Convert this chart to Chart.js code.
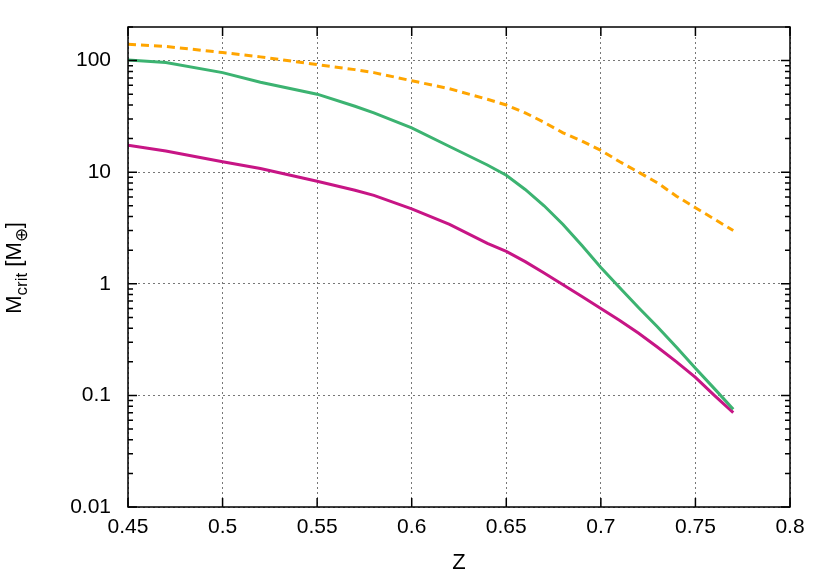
<!DOCTYPE html>
<html lang="en">
<head>
<meta charset="UTF-8">
<title>Critical mass vs Z</title>
<script src="https://cdn.jsdelivr.net/npm/chart.js@4"></script>
<style>
  html, body { margin: 0; padding: 0; background: #fff; }
  #wrap { width: 830px; height: 580px; position: relative; }
</style>
</head>
<body>
<div id="wrap"><canvas id="chart"></canvas></div>
<script>
// data
const zValues      = [0.45, 0.47, 0.50, 0.52, 0.55, 0.57, 0.58, 0.60, 0.62, 0.64, 0.65, 0.66, 0.67, 0.68, 0.69, 0.70, 0.71, 0.72, 0.73, 0.74, 0.75, 0.76, 0.77];
const orangeMass   = [140, 134, 118, 108, 92, 83, 78, 66, 56, 45, 40, 34, 28, 22.5, 19, 15.7, 12.4, 10, 8, 6.1, 4.8, 3.8, 3.0];
const greenMass    = [101, 96, 78, 64, 50, 39, 34, 25, 17, 11.6, 9.4, 7.0, 5.0, 3.4, 2.2, 1.4, 0.92, 0.61, 0.41, 0.27, 0.175, 0.115, 0.075];
const magentaMass  = [17.4, 15.5, 12.4, 10.8, 8.3, 6.9, 6.2, 4.7, 3.4, 2.3, 1.95, 1.58, 1.25, 0.98, 0.77, 0.6, 0.47, 0.36, 0.27, 0.2, 0.145, 0.1, 0.07];

const xTicks = [0.45, 0.5, 0.55, 0.6, 0.65, 0.7, 0.75, 0.8];
const yTicks = [0.01, 0.1, 1, 10, 100];

const FONT = '"Liberation Sans", Arial, Helvetica, sans-serif';

function points(ys) {
    return zValues.map((z, i) => ({ x: z, y: ys[i] }));
}

// frame, inward tick marks on all four sides, and the axis titles
const framePlugin = {
    id: 'frame',
    afterDraw(chart) {
        const { ctx, chartArea: a, scales } = chart;
        const xs = scales.x, ys = scales.y;
        ctx.save();
        ctx.strokeStyle = '#000';
        ctx.lineWidth = 1.5;
        ctx.strokeRect(a.left, a.top, a.right - a.left, a.bottom - a.top);

        ctx.beginPath();
        xTicks.forEach(v => {
            const px = xs.getPixelForValue(v);
            ctx.moveTo(px, a.bottom); ctx.lineTo(px, a.bottom - 9);
            ctx.moveTo(px, a.top);    ctx.lineTo(px, a.top + 9);
        });
        for (let e = -2; e <= 2; e++) {
            for (let k = 1; k <= 9; k++) {
                const v = k * Math.pow(10, e);
                if (v > ys.max) continue;
                const py = ys.getPixelForValue(v);
                const len = k === 1 ? 9 : 5;
                ctx.moveTo(a.left, py);  ctx.lineTo(a.left + len, py);
                ctx.moveTo(a.right, py); ctx.lineTo(a.right - len, py);
            }
        }
        ctx.stroke();

        // x title
        ctx.fillStyle = '#000';
        ctx.font = '22px ' + FONT;
        ctx.textAlign = 'center';
        ctx.textBaseline = 'middle';
        ctx.fillText('Z', (a.left + a.right) / 2, 563);

        // y title with subscripts: M_crit [M_⊕]
        const parts = [
            { t: 'M', size: 22, dy: 0 },
            { t: 'crit', size: 17, dy: 6 },
            { t: ' [M', size: 22, dy: 0 },
            { t: '\u2295', size: 17, dy: 6 },
            { t: ']', size: 22, dy: 0 }
        ];
        let total = 0;
        parts.forEach(p => { ctx.font = p.size + 'px ' + FONT; p.w = ctx.measureText(p.t).width; total += p.w; });
        ctx.translate(21, 268);
        ctx.rotate(-Math.PI / 2);
        ctx.textAlign = 'left';
        ctx.textBaseline = 'alphabetic';
        let cx = -total / 2;
        parts.forEach(p => {
            ctx.font = p.size + 'px ' + FONT;
            ctx.fillText(p.t, cx, p.dy);
            cx += p.w;
        });
        ctx.restore();
    }
};

const ctx = document.getElementById('chart').getContext('2d');
new Chart(ctx, {
    type: 'line',
    data: {
        datasets: [
            { data: points(orangeMass),  borderColor: '#FFA500', borderWidth: 3, borderDash: [8, 5] },
            { data: points(greenMass),   borderColor: '#3CB371', borderWidth: 3 },
            { data: points(magentaMass), borderColor: '#C71585', borderWidth: 3 }
        ]
    },
    options: {
        responsive: true,
        maintainAspectRatio: false,
        animation: false,
        elements: { point: { radius: 0 }, line: { tension: 0, fill: false } },
        layout: { padding: { top: 27, right: 40, left: 0, bottom: 0 } },
        plugins: { legend: { display: false }, tooltip: { enabled: false } },
        scales: {
            x: {
                type: 'linear',
                min: 0.45,
                max: 0.8,
                afterBuildTicks: s => { s.ticks = xTicks.map(v => ({ value: v })); },
                afterFit: s => { s.height = 73; },
                grid: { color: '#777', lineWidth: 1, drawTicks: false },
                border: { display: false, dash: [2, 3] },
                ticks: {
                    padding: 8,
                    color: '#000',
                    font: { family: FONT, size: 21 },
                    maxRotation: 0,
                    callback: v => String(v)
                }
            },
            y: {
                type: 'logarithmic',
                min: 0.01,
                max: 200,
                afterBuildTicks: s => { s.ticks = yTicks.map(v => ({ value: v })); },
                afterFit: s => { s.width = 128; s.paddingTop = 0; s.paddingBottom = 0; },
                grid: { color: '#777', lineWidth: 1, drawTicks: false },
                border: { display: false, dash: [2, 3] },
                ticks: {
                    padding: 17,
                    color: '#000',
                    font: { family: FONT, size: 21 },
                    callback: v => String(v)
                }
            }
        }
    },
    plugins: [framePlugin]
});
</script>
</body>
</html>
